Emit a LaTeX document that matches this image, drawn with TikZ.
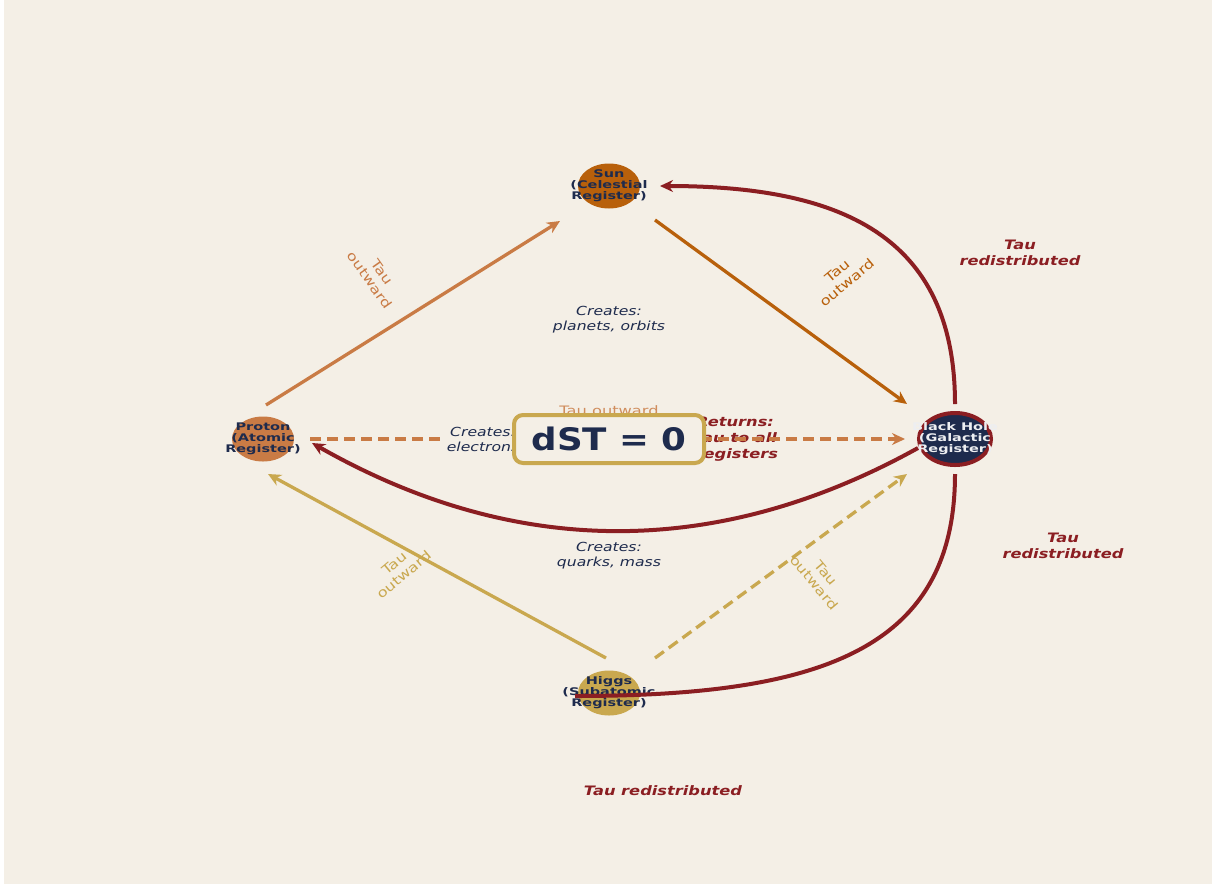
\documentclass[tikz,border=0pt]{standalone}
\usepackage{fontspec}
\setmainfont{DejaVu Sans}[FakeStretch=1.25]
\newfontfamily\regfont{DejaVu Sans}[FakeStretch=1.38]
\newfontfamily\boxfont{DejaVu Sans}[FakeStretch=1.15]
\usetikzlibrary{arrows.meta,shapes.geometric,positioning}
\definecolor{bgcream}{HTML}{F4EFE6}
\definecolor{navy}{HTML}{1E2B4D}
\definecolor{darkred}{HTML}{8B1E22}
\definecolor{sunorange}{HTML}{B8600B}
\definecolor{terracotta}{HTML}{C97B45}
\definecolor{gold}{HTML}{C9A84F}

\begin{document}
\begin{tikzpicture}[x=1pt,y=-1pt,
  register/.style={ellipse,minimum width=62pt,minimum height=45pt,inner sep=0pt},
  regtext/.style={text=navy,font=\regfont\bfseries\fontsize{10.5}{11}\selectfont,align=center,inner sep=0pt},
  flow/.style={line width=3.3pt,-{Stealth[length=13pt,width=12pt]}},
  back/.style={line width=4pt,draw=darkred},
  tau/.style={font=\fontsize{13}{15}\selectfont,align=center},
  creates/.style={text=navy,font=\itshape\fontsize{12.5}{15}\selectfont,align=center},
  redist/.style={text=darkred,font=\bfseries\itshape\fontsize{13}{16}\selectfont,align=center}]
\fill[white] (0,0) rectangle (1212,884);
\fill[bgcream] (4,0) rectangle (1212,884);
\useasboundingbox (0,0) rectangle (1212,884);

\node[register,fill=sunorange,label={[regtext]center:Sun\\(Celestial\\Register)}] (sun) at (609,186) {};
\node[register,fill=terracotta,label={[regtext]center:Proton\\(Atomic\\Register)}] (proton) at (263,439) {};
\node[register,fill=gold,label={[regtext]center:Higgs\\(Subatomic\\Register)}] (higgs) at (609,693) {};
\node[register,fill=navy,draw=darkred,line width=4pt,minimum width=72pt,minimum height=52pt,
  label={[regtext,text=white!92!navy]center:Black Hole\\(Galactic\\Register)}] (bh) at (955,439) {};

\node[redist] (returns) at (735,439) {Returns:\\Tau to all\\Registers};

\draw[flow,terracotta] ([shift={(3,-34)}]proton.center) -- ([shift={(-49,35)}]sun.center);
\draw[flow,sunorange] ([shift={(46,34)}]sun.center) -- ([shift={(-48,-35)}]bh.center);
\draw[flow,terracotta,dashed,dash pattern=on 11pt off 6pt] ([shift={(47,0)}]proton.center) -- ([shift={(-50,0)}]bh.center);
\draw[flow,gold] ([shift={(-3,-35)}]higgs.center) -- ([shift={(5,35)}]proton.center);
\draw[flow,gold,dash pattern=on 11pt off 6pt] ([shift={(46,-35)}]higgs.center) -- ([shift={(-48,35)}]bh.center);

\draw[back,-{Stealth[length=13pt,width=12pt]}] ([shift={(-37,9)}]bh.center) .. controls (716,560) and (514,558) .. ([shift={(49,4)}]proton.center);
\draw[back,-{Stealth[length=13pt,width=12pt]}] ([shift={(0,-35)}]bh.center) .. controls (955,235) and (840,186) .. ([shift={(51,0)}]sun.center);
\draw[back] ([shift={(0,35)}]bh.center) .. controls (955,650) and (820,696) .. ([shift={(-34,3)}]higgs.center);

\node[tau,text=terracotta,rotate=-55] (t1) at (376,276) {Tau\\outward};
\node[tau,text=sunorange,rotate=40] (t2) at (842,277) {Tau\\outward};
\node[tau,text=gold,rotate=40] (t5) at (399,569) {Tau\\outward};
\node[tau,text=gold,rotate=-50] (t6) at (820,578) {Tau\\outward};
\node[tau,text=terracotta!85!bgcream] (t3) at (609,411) {Tau outward};

\node[creates] (c1) at (609,320) {Creates:\\planets, orbits};
\node[creates,fill=bgcream,inner sep=1pt] (c2) at (483,439) {Creates:\\electrons};
\node[creates] (c3) at (609,556) {Creates:\\quarks, mass};

\node[redist] (r1) at (1020,253) {Tau\\redistributed};
\node[redist] (r2) at (1063,546) {Tau\\redistributed};
\node[redist] (r3) at (663,791) {Tau redistributed};

\node[draw=gold,line width=4pt,fill=bgcream,rounded corners=9pt,minimum width=190pt,minimum height=48pt,
  text=navy,font=\boxfont\bfseries\fontsize{31}{34}\selectfont] (dst) at (609,439) {dST = 0};
\end{tikzpicture}
\end{document}
